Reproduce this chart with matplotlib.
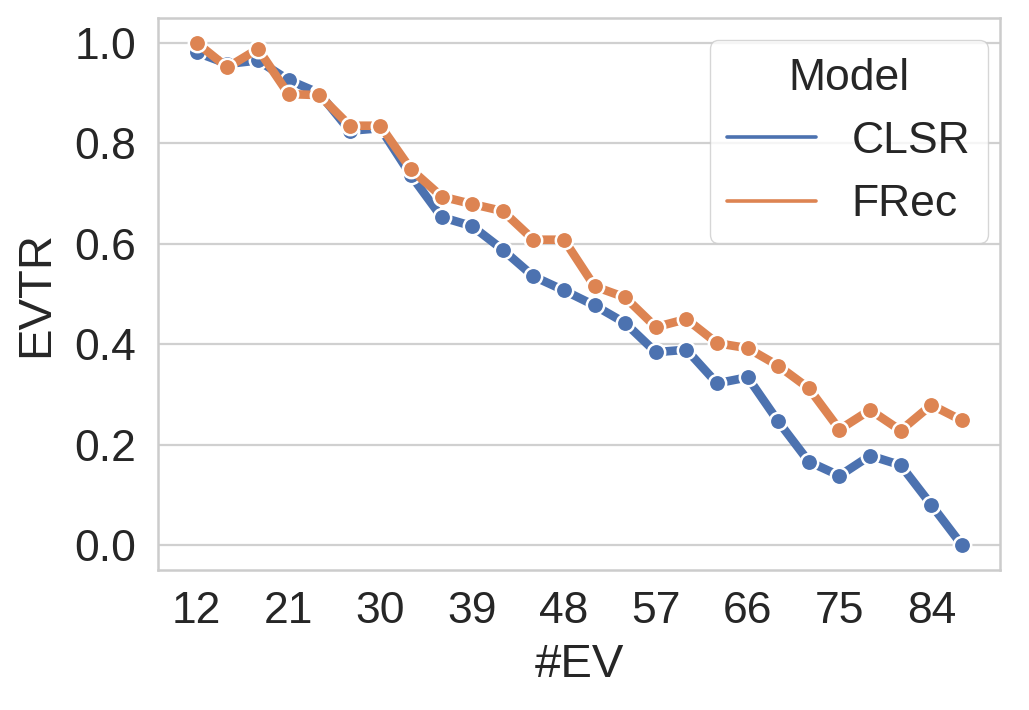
import matplotlib
matplotlib.use("Agg")
import matplotlib.pyplot as plt
import seaborn as sns
import pandas as pd

ev = list(range(12, 88, 3))
clsr = [0.981, 0.958, 0.965, 0.926, 0.900, 0.825, 0.830, 0.736, 0.653, 0.635,
        0.588, 0.535, 0.507, 0.477, 0.442, 0.384, 0.389, 0.322, 0.334, 0.246,
        0.166, 0.138, 0.178, 0.159, 0.080, 0.000]
frec = [1.000, 0.951, 0.988, 0.898, 0.896, 0.835, 0.835, 0.748, 0.694, 0.679,
        0.665, 0.608, 0.608, 0.515, 0.493, 0.434, 0.450, 0.402, 0.392, 0.357,
        0.312, 0.230, 0.269, 0.228, 0.279, 0.248]
xticks = [12, 21, 30, 39, 48, 57, 66, 75, 84]

sns.set_theme(style="whitegrid")
plt.rcParams['font.family'] = ['Liberation Sans', 'DejaVu Sans']

df = pd.DataFrame({
    "#EV": ev * 2,
    "EVTR": clsr + frec,
    "Model": ["CLSR"] * len(ev) + ["FRec"] * len(ev),
})

fig, ax = plt.subplots(figsize=(10.29, 7.10), dpi=100)
sns.lineplot(data=df, x="#EV", y="EVTR", hue="Model", marker="o",
             linewidth=6.2, markersize=12.5, markeredgecolor="white",
             markeredgewidth=1.8, ax=ax)
ax.set_xticks(xticks)
ax.grid(axis="x", visible=False)
ax.grid(axis="y", color="#d0d0d0", linewidth=1.6)
ax.tick_params(axis="both", labelsize=32, length=0)
ax.tick_params(axis="y", pad=16)
ax.tick_params(axis="x", pad=15)
ax.set_xlabel("#EV", fontsize=34, labelpad=8)
ax.set_ylabel("EVTR", fontsize=34, labelpad=12)
for s in ax.spines.values():
    s.set_color("#cccccc")
    s.set_linewidth(1.8)
leg = ax.legend(title="Model", fontsize=32, title_fontsize=32,
                loc="upper right", bbox_to_anchor=(0.9857, 0.960),
                borderaxespad=0)
for h in leg.get_lines():
    h.set_linewidth(2.6)
    h.set_marker("")
fig.subplots_adjust(left=0.154, right=0.972, top=0.975, bottom=0.197)
fig.savefig("out.png", dpi=100)
